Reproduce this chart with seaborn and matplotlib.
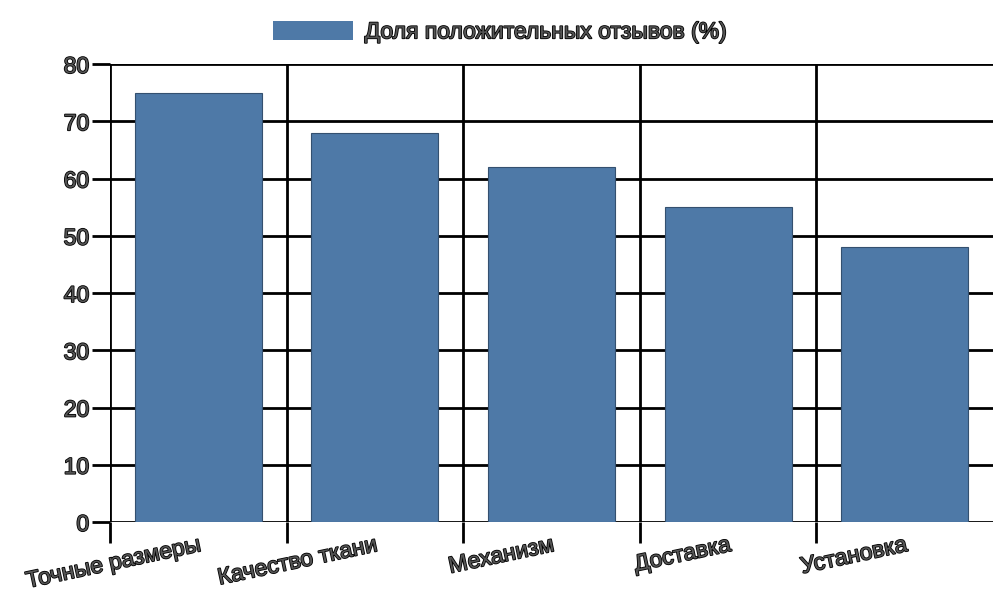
import numpy as np
import pandas as pd
import seaborn as sns
import matplotlib.pyplot as plt
import matplotlib.patheffects as pe
from matplotlib.patches import Patch

categories = ["Точные размеры", "Качество ткани", "Механизм", "Доставка", "Установка"]
values = [75, 68, 62, 55, 48]
series_name = "Доля положительных отзывов (%)"
y_ticks = [0, 10, 20, 30, 40, 50, 60, 70, 80]

bar_color = "#4e79a7"

sns.set_theme(style="white")
plt.rcParams["font.family"] = ["Liberation Sans", "DejaVu Sans"]

df = pd.DataFrame({"category": categories, "value": values})

fig = plt.figure(figsize=(10, 6), dpi=100)
ax = fig.add_axes([0.110, 0.13, 0.883, 0.7633])

sns.barplot(data=df, x="category", y="value", color=bar_color, width=0.72,
            saturation=1, edgecolor="#34506f", linewidth=0.8, ax=ax)

ax.set_xlim(-0.5, 4.5)
ax.set_ylim(0, 80)
ax.set_yticks(y_ticks)
ax.set_xlabel("")
ax.set_ylabel("")
for s in ax.spines.values():
    s.set_visible(False)

ax.set_axisbelow(True)
ax.grid(axis="y", color="black", linewidth=2)
ax.set_xticks(np.arange(-0.5, 4, 1), minor=True)
ax.grid(axis="x", which="minor", color="black", linewidth=2)
ax.grid(axis="x", which="major", visible=False)

text_fx = [pe.withStroke(linewidth=1.2, foreground="black")]
fs = 16.5

ax.tick_params(axis="y", length=13, width=2, color="black", pad=2,
               labelsize=fs, labelcolor="#555555", left=True)
ax.tick_params(axis="x", which="minor", length=15, width=2, color="black", bottom=True)
ax.tick_params(axis="x", which="major", length=0, pad=8, labelsize=fs,
               labelcolor="#555555")

for lbl in ax.get_yticklabels():
    lbl.set_path_effects(text_fx)
for lbl in ax.get_xticklabels():
    lbl.set_rotation(12)
    lbl.set_ha("right")
    lbl.set_rotation_mode("anchor")
    lbl.set_path_effects(text_fx)

leg = fig.legend(handles=[Patch(facecolor=bar_color, edgecolor="none", label=series_name)],
                 loc="center", bbox_to_anchor=(0.5, 0.947), frameon=False,
                 fontsize=fs, handlelength=3.5, handleheight=0.95, handletextpad=0.5)
for t in leg.get_texts():
    t.set_color("#555555")
    t.set_path_effects(text_fx)

fig.savefig("out.png", dpi=100)
